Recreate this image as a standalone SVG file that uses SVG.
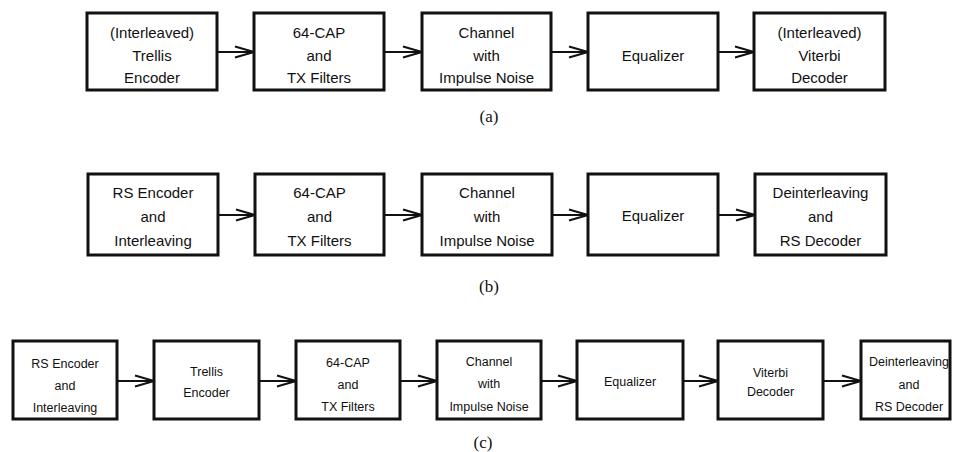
<svg xmlns="http://www.w3.org/2000/svg" width="953" height="452" viewBox="0 0 953 452">
<style>
.box{fill:#fff;stroke:#111;stroke-width:3}
.t{font-family:"Liberation Sans",Arial,sans-serif;font-size:15px;fill:#111;text-anchor:middle}
.s{font-family:"Liberation Sans",Arial,sans-serif;font-size:12.5px;fill:#111;text-anchor:middle}
.lab{font-family:"Liberation Serif","Times New Roman",serif;font-size:17px;fill:#111;text-anchor:middle}
.c{stroke:#111;stroke-width:2;fill:none}
</style>
<defs>
<marker id="ah" markerUnits="userSpaceOnUse" markerWidth="22" markerHeight="14" viewBox="0 0 22 14" refX="20" refY="7" orient="auto">
<path d="M1,1.5 L20,7 L1,12.5" fill="none" stroke="#111" stroke-width="2"/>
</marker>
</defs>
<rect width="953" height="452" fill="#fff"/>

<g id="connectors">
<line class="c" x1="217" y1="52" x2="254" y2="52" marker-end="url(#ah)"/>
<line class="c" x1="384" y1="52" x2="422" y2="52" marker-end="url(#ah)"/>
<line class="c" x1="551" y1="52" x2="588" y2="52" marker-end="url(#ah)"/>
<line class="c" x1="718" y1="52" x2="754" y2="52" marker-end="url(#ah)"/>

<line class="c" x1="218" y1="215" x2="255" y2="215" marker-end="url(#ah)"/>
<line class="c" x1="384" y1="215" x2="422" y2="215" marker-end="url(#ah)"/>
<line class="c" x1="552" y1="215" x2="588" y2="215" marker-end="url(#ah)"/>
<line class="c" x1="718" y1="215" x2="755" y2="215" marker-end="url(#ah)"/>

<line class="c" x1="117" y1="381" x2="154" y2="381" marker-end="url(#ah)"/>
<line class="c" x1="259" y1="381" x2="296" y2="381" marker-end="url(#ah)"/>
<line class="c" x1="400" y1="381" x2="437" y2="381" marker-end="url(#ah)"/>
<line class="c" x1="541" y1="381" x2="577" y2="381" marker-end="url(#ah)"/>
<line class="c" x1="683" y1="381" x2="718" y2="381" marker-end="url(#ah)"/>
<line class="c" x1="823" y1="381" x2="861" y2="381" marker-end="url(#ah)"/>
</g>

<!-- Row (a) -->
<g id="a1"><rect class="box" x="87" y="13" width="130" height="77"/>
<text class="t" x="152" y="38">(Interleaved)</text><text class="t" x="152" y="61">Trellis</text><text class="t" x="152" y="83">Encoder</text></g>
<g id="a2"><rect class="box" x="254" y="13" width="130" height="77"/>
<text class="t" x="319" y="38">64-CAP</text><text class="t" x="319" y="61">and</text><text class="t" x="319" y="83">TX Filters</text></g>
<g id="a3"><rect class="box" x="422" y="13" width="129" height="77"/>
<text class="t" x="486.5" y="38">Channel</text><text class="t" x="486.5" y="61">with</text><text class="t" x="486.5" y="83">Impulse Noise</text></g>
<g id="a4"><rect class="box" x="588" y="13" width="130" height="77"/>
<text class="t" x="653" y="61">Equalizer</text></g>
<g id="a5"><rect class="box" x="754" y="13" width="131" height="77"/>
<text class="t" x="819.5" y="38">(Interleaved)</text><text class="t" x="819.5" y="61">Viterbi</text><text class="t" x="819.5" y="83">Decoder</text></g>
<text class="lab" x="489" y="122">(a)</text>

<!-- Row (b) -->
<g id="b1"><rect class="box" x="88" y="174" width="130" height="81"/>
<text class="t" x="153" y="198">RS Encoder</text><text class="t" x="153" y="222">and</text><text class="t" x="153" y="246">Interleaving</text></g>
<g id="b2"><rect class="box" x="255" y="174" width="129" height="81"/>
<text class="t" x="319.5" y="198">64-CAP</text><text class="t" x="319.5" y="222">and</text><text class="t" x="319.5" y="246">TX Filters</text></g>
<g id="b3"><rect class="box" x="422" y="174" width="130" height="81"/>
<text class="t" x="487" y="198">Channel</text><text class="t" x="487" y="222">with</text><text class="t" x="487" y="246">Impulse Noise</text></g>
<g id="b4"><rect class="box" x="588" y="174" width="130" height="81"/>
<text class="t" x="653" y="221">Equalizer</text></g>
<g id="b5"><rect class="box" x="755" y="174" width="131" height="81"/>
<text class="t" x="820.5" y="198">Deinterleaving</text><text class="t" x="820.5" y="222">and</text><text class="t" x="820.5" y="246">RS Decoder</text></g>
<text class="lab" x="489" y="292">(b)</text>

<!-- Row (c) -->
<g id="c1"><rect class="box" x="13" y="341" width="104" height="78"/>
<text class="s" x="65" y="368">RS Encoder</text><text class="s" x="65" y="390">and</text><text class="s" x="65" y="412">Interleaving</text></g>
<g id="c2"><rect class="box" x="154" y="341" width="105" height="78"/>
<text class="s" x="206.5" y="376">Trellis</text><text class="s" x="206.5" y="397">Encoder</text></g>
<g id="c3"><rect class="box" x="296" y="341" width="104" height="78"/>
<text class="s" x="348" y="367">64-CAP</text><text class="s" x="348" y="389">and</text><text class="s" x="348" y="411">TX Filters</text></g>
<g id="c4"><rect class="box" x="437" y="341" width="104" height="78"/>
<text class="s" x="489" y="366">Channel</text><text class="s" x="489" y="388">with</text><text class="s" x="489" y="411">Impulse Noise</text></g>
<g id="c5"><rect class="box" x="577" y="341" width="106" height="78"/>
<text class="s" x="630" y="386">Equalizer</text></g>
<g id="c6"><rect class="box" x="718" y="341" width="105" height="78"/>
<text class="s" x="770.5" y="377">Viterbi</text><text class="s" x="770.5" y="396">Decoder</text></g>
<g id="c7"><rect class="box" x="861" y="341" width="89" height="78"/>
<text class="s" x="909" y="366">Deinterleaving</text><text class="s" x="909" y="389">and</text><text class="s" x="909" y="411">RS Decoder</text></g>
<text class="lab" x="483" y="448">(c)</text>
</svg>
